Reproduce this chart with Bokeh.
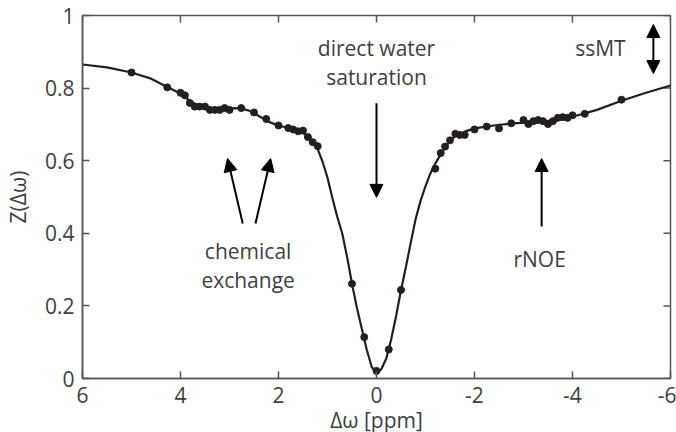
import math
from bokeh.plotting import figure
from bokeh.models import Range1d, FixedTicker, Arrow, NormalHead, Label
from bokeh.embed import file_html
from bokeh.resources import INLINE

# Measured Z-spectrum (offset in ppm, normalised signal)
meas_offset = [5.0, 4.27, 4.0, 3.91, 3.81, 3.71, 3.61, 3.50, 3.40, 3.30, 3.20, 3.10,
               3.0, 2.76, 2.50, 2.25, 2.0, 1.80, 1.70, 1.60, 1.50, 1.40, 1.30, 1.20,
               0.50, 0.25, 0.0, -0.25, -0.50,
               -1.20, -1.31, -1.40, -1.50, -1.61, -1.70, -1.80, -2.0, -2.25, -2.50,
               -2.75, -3.0, -3.10, -3.20, -3.30, -3.40, -3.50, -3.60, -3.70, -3.80,
               -3.90, -4.0, -4.25, -5.0]
meas_z = [0.843, 0.802, 0.787, 0.780, 0.759, 0.749, 0.749, 0.749, 0.740, 0.740, 0.740, 0.745,
          0.740, 0.745, 0.733, 0.715, 0.697, 0.690, 0.686, 0.681, 0.683, 0.665, 0.651, 0.640,
          0.261, 0.114, 0.021, 0.080, 0.244,
          0.578, 0.621, 0.639, 0.656, 0.674, 0.671, 0.671, 0.686, 0.694, 0.689,
          0.703, 0.712, 0.701, 0.709, 0.712, 0.709, 0.701, 0.709, 0.718, 0.720,
          0.718, 0.725, 0.729, 0.768]

# Fitted model curve
fit_offset = [6.0, 5.5, 5.0, 4.6, 4.3, 4.0, 3.8, 3.6, 3.4, 3.2, 3.0, 2.8, 2.6, 2.4, 2.2,
              2.0, 1.8, 1.6, 1.5, 1.4, 1.3, 1.2, 1.1, 1.0, 0.9, 0.8, 0.7, 0.6, 0.5,
              0.4, 0.3, 0.2, 0.1, 0.0, -0.1, -0.2, -0.3, -0.4, -0.5, -0.6, -0.7,
              -0.8, -0.9, -1.0, -1.1, -1.2, -1.3, -1.4, -1.5, -1.6, -1.8, -2.0,
              -2.5, -3.0, -3.5, -4.0, -4.5, -5.0, -5.5, -6.0]
fit_z = [0.865, 0.857, 0.843, 0.826, 0.805, 0.785, 0.764, 0.750, 0.743, 0.742, 0.744,
         0.745, 0.738, 0.723, 0.707, 0.697, 0.690, 0.683, 0.677, 0.667, 0.653, 0.632,
         0.597, 0.553, 0.497, 0.445, 0.400, 0.335, 0.261, 0.195, 0.137, 0.080, 0.033,
         0.013, 0.026, 0.055, 0.108, 0.172, 0.244, 0.307, 0.375, 0.440, 0.490, 0.530,
         0.565, 0.592, 0.615, 0.636, 0.655, 0.667, 0.680, 0.689, 0.699, 0.705, 0.710,
         0.721, 0.740, 0.765, 0.787, 0.807]

x_ticks = [6, 4, 2, 0, -2, -4, -6]
x_tick_labels = {6: "6", 4: "4", 2: "2", 0: "0", -2: "-2", -4: "-4", -6: "-6"}
y_ticks = [0, 0.2, 0.4, 0.6, 0.8, 1]
y_tick_labels = {0: "0", 0.2: "0.2", 0.4: "0.4", 0.6: "0.6", 0.8: "0.8", 1: "1"}

FONT = "Open Sans"
TEXT = "#404040"
AXIS = "#555555"
INK = "#231f20"
FS = "21px"

p = figure(width=676, height=432, output_backend="svg", toolbar_location=None,
           x_range=Range1d(6, -6), y_range=Range1d(0, 1),
           frame_width=588, frame_height=363,
           min_border_left=82, min_border_right=6, min_border_top=15, min_border_bottom=54)
p.background_fill_color = "white"
p.border_fill_color = "white"
p.outline_line_color = AXIS
p.outline_line_width = 1.5
p.xgrid.visible = False
p.ygrid.visible = False

for ax, ticks, labels in ((p.xaxis[0], x_ticks, x_tick_labels),
                          (p.yaxis[0], y_ticks, y_tick_labels)):
    ax.ticker = FixedTicker(ticks=ticks)
    ax.major_label_overrides = labels
    ax.axis_line_color = AXIS
    ax.axis_line_width = 1.5
    ax.major_tick_line_color = AXIS
    ax.major_tick_line_width = 1.5
    ax.major_tick_in = 7
    ax.major_tick_out = 0
    ax.minor_tick_line_color = None
    ax.major_label_text_font = FONT
    ax.major_label_text_color = TEXT
    ax.major_label_text_font_size = FS
    ax.axis_label_text_font = FONT
    ax.axis_label_text_font_size = FS
    ax.axis_label_text_color = TEXT
    ax.axis_label_text_font_style = "normal"

p.xaxis[0].major_label_standoff = 8
p.yaxis[0].major_label_standoff = 8
p.xaxis[0].axis_label = "Δω [ppm]"
p.yaxis[0].axis_label = "Z(Δω)"
p.xaxis[0].axis_label_standoff = 0
p.yaxis[0].axis_label_standoff = 10

# inward ticks on the top and right edges of the box (half of each dash is clipped by the frame)
p.scatter(x_ticks, [1] * len(x_ticks), marker="dash", size=14, angle=math.pi / 2,
          line_color=AXIS, line_width=1.5)
p.scatter([-6] * len(y_ticks), y_ticks, marker="dash", size=14,
          line_color=AXIS, line_width=1.5)

# model curve and measured points
p.line(fit_offset, fit_z, line_color=INK, line_width=2.2)
p.scatter(meas_offset, meas_z, size=7, color=INK)

def head():
    return NormalHead(size=13, fill_color="black", line_color="black", line_width=1)

def arrow(x0, y0, x1, y1, both=False):
    p.add_layout(Arrow(start=head() if both else None, end=head(),
                       x_start=x0, y_start=y0, x_end=x1, y_end=y1,
                       line_color="black", line_width=2))

def note(x, y, txt):
    p.add_layout(Label(x=x, y=y, text=txt, text_font=FONT, text_font_size=FS,
                       text_color=TEXT, text_align="center", text_baseline="middle"))

# direct water saturation
note(0, 0.910, "direct water")
note(0, 0.830, "saturation")
arrow(0, 0.758, 0, 0.499)

# chemical exchange
note(2.62, 0.350, "chemical")
note(2.62, 0.272, "exchange")
arrow(2.73, 0.427, 3.04, 0.606)
arrow(2.47, 0.427, 2.16, 0.606)

# rNOE
note(-3.33, 0.328, "rNOE")
arrow(-3.37, 0.419, -3.37, 0.606)

# ssMT
note(-4.57, 0.910, "ssMT")
arrow(-5.65, 0.840, -5.65, 0.975, both=True)

open("out.html", "w").write(file_html(p, INLINE))
